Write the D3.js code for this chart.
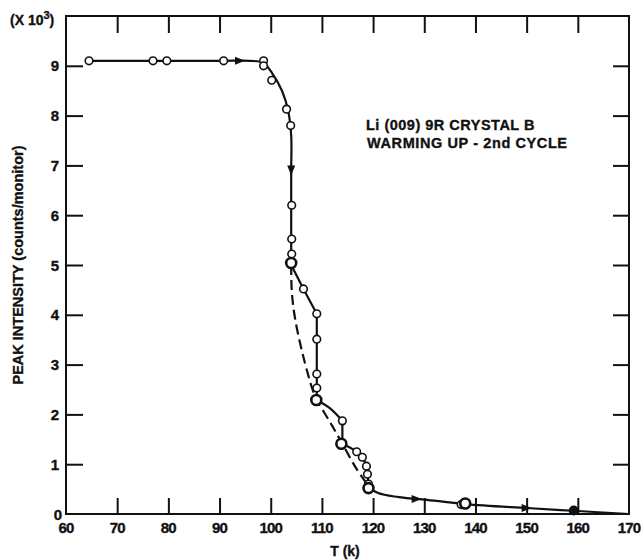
<!DOCTYPE html>
<html>
<head>
<meta charset="utf-8">
<script src="https://cdn.jsdelivr.net/npm/d3@7"></script>
<style>
  body { margin: 0; background: #fff; }
  svg text { font-family: "Liberation Sans", Arial, sans-serif; font-weight: bold; fill: #111; stroke: #111; stroke-width: 0.35px; }
</style>
</head>
<body>
<div id="chart"></div>
<script>
// x ticks / y ticks
var xTicks = [70, 80, 90, 100, 110, 120, 130, 140, 150, 160];
var xLabels = [60, 70, 80, 90, 100, 110, 120, 130, 140, 150, 160, 170];
var yTicks = [1, 2, 3, 4, 5, 6, 7, 8, 9];
var yLabels = [0, 1, 2, 3, 4, 5, 6, 7, 8, 9];

// solid curve, in pieces (joins are corners)
var solidPieces = [
  [[64.5, 9.1], [77, 9.1], [79.7, 9.1], [90.8, 9.1], [96, 9.1], [98.5, 9.06], [100.3, 8.85], [102.2, 8.5], [103.4, 8.1], [104, 7.6], [104, 6.9], [104, 6.2], [104, 5.5], [104, 5.0]],
  [[104, 5.0], [106.4, 4.52], [109, 4.02]],
  [[109, 4.02], [109, 3.5], [109, 2.8], [109, 2.29]],
  [[109, 2.29], [111.6, 2.12], [114, 1.87]],
  [[114, 1.87], [114, 1.41]],
  [[114, 1.41], [116.8, 1.25], [118, 1.12], [118.7, 0.96], [119, 0.8], [119.2, 0.55], [121, 0.42], [125, 0.34], [130, 0.29], [138, 0.2], [150, 0.12], [160, 0.06], [170, 0]]
];

// dashed curve
var dashed = [[104, 5.0], [104.1, 4.5], [104.7, 3.96], [106.2, 3.23], [108.2, 2.49], [109, 2.29], [111.5, 1.86], [114, 1.41], [116.8, 0.9], [119.2, 0.55]];

// open circles
var openPts = [[64.5, 9.1], [77, 9.1], [79.7, 9.1], [90.8, 9.1], [98.6, 9.1], [98.6, 9.0], [100.2, 8.71], [103.1, 8.13], [103.9, 7.8],
  [104.1, 6.2], [104.1, 5.52], [104.1, 5.22], [106.4, 4.52], [109, 4.02], [109, 3.51], [109, 2.81], [109, 2.53],
  [114, 1.87], [116.8, 1.25], [117.9, 1.14], [118.7, 0.96], [118.9, 0.8], [119.1, 0.6], [137.2, 0.19]];

// heavier circles
var bigPts = [[104, 5.04], [108.9, 2.29], [113.8, 1.41], [119.1, 0.52], [138, 0.21]];
var filledPts = [[159.2, 0.07]];

// arrows: x, y, direction
var arrows = [[94, 9.1, "right"], [104, 6.9, "down"], [128.5, 0.3, "right"], [150, 0.12, "right"]];

var W = 642, H = 560;
var mLeft = 66, mRight = 629, mTop = 16, mBottom = 514;

var svg = d3.select("#chart").append("svg")
  .attr("width", W).attr("height", H);

var x = d3.scaleLinear().domain([60, 170]).range([mLeft, mRight]);
var y = d3.scaleLinear().domain([0, 10]).range([mBottom, mTop]);

// ticks
var xb = d3.axisBottom(x).tickValues(xTicks).tickSizeInner(-16).tickSizeOuter(0).tickFormat("");
var xt = d3.axisTop(x).tickValues(xTicks).tickSizeInner(-17).tickSizeOuter(0).tickFormat("");
var yl = d3.axisLeft(y).tickValues(yTicks).tickSizeInner(-17).tickSizeOuter(0).tickFormat("");
var yr = d3.axisRight(y).tickValues(yTicks).tickSizeInner(-16).tickSizeOuter(0).tickFormat("");

[[xb, "translate(0," + mBottom + ")"], [xt, "translate(0," + mTop + ")"],
 [yl, "translate(" + mLeft + ",0)"], [yr, "translate(" + mRight + ",0)"]].forEach(function (a) {
  var g = svg.append("g").attr("transform", a[1]).call(a[0]);
  g.select(".domain").remove();
  g.selectAll("line").attr("stroke", "#111").attr("stroke-width", 2);
});

// frame
svg.append("rect")
  .attr("x", mLeft).attr("y", mTop)
  .attr("width", mRight - mLeft).attr("height", mBottom - mTop)
  .attr("fill", "none").attr("stroke", "#111").attr("stroke-width", 2);

// tick labels
svg.append("g").selectAll("text").data(xLabels).enter().append("text")
  .attr("x", function (d) { return x(d); })
  .attr("y", 533)
  .attr("text-anchor", "middle")
  .style("font-size", "15px")
  .style("letter-spacing", "-0.8px")
  .text(function (d) { return d; });

svg.append("g").selectAll("text").data(yLabels).enter().append("text")
  .attr("x", function (d) { return d === 0 ? 62 : 59; })
  .attr("y", function (d) { return y(d) + 5.5; })
  .attr("text-anchor", "end")
  .style("font-size", "15px")
  .text(function (d) { return d; });

// (X 10^3)
var mult = svg.append("text").attr("x", 10).attr("y", 25).style("font-size", "14px");
mult.append("tspan").text("(X 10");
mult.append("tspan").attr("dy", -6).style("font-size", "11px").text("3");
mult.append("tspan").attr("dy", 6).text(")");

// axis titles
svg.append("text")
  .attr("transform", "translate(23,265) rotate(-90)")
  .attr("text-anchor", "middle")
  .style("font-size", "14.5px")
  .text("PEAK INTENSITY (counts/monitor)");

svg.append("text")
  .attr("x", 345).attr("y", 556)
  .attr("text-anchor", "middle")
  .style("font-size", "14px")
  .text("T (k)");

// annotation
svg.append("text").attr("x", 366).attr("y", 130)
  .style("font-size", "14.5px").style("letter-spacing", "0.5px")
  .text("Li (009) 9R CRYSTAL B");
svg.append("text").attr("x", 367).attr("y", 148)
  .style("font-size", "14.5px").style("letter-spacing", "0.6px")
  .text("WARMING UP - 2nd CYCLE");

// curves
var line = d3.line()
  .x(function (d) { return x(d[0]); })
  .y(function (d) { return y(d[1]); })
  .curve(d3.curveCatmullRom.alpha(0.5));

svg.append("g").selectAll("path").data(solidPieces).enter().append("path")
  .attr("d", line)
  .attr("fill", "none").attr("stroke", "#111").attr("stroke-width", 2.2)
  .attr("stroke-linejoin", "round");

svg.append("path")
  .attr("d", line(dashed))
  .attr("fill", "none").attr("stroke", "#111").attr("stroke-width", 2.2)
  .attr("stroke-dasharray", "10,5");

// arrows
svg.append("g").selectAll("path").data(arrows).enter().append("path")
  .attr("transform", function (d) {
    var r = d[2] === "down" ? 90 : 0;
    return "translate(" + x(d[0]) + "," + y(d[1]) + ") rotate(" + r + ")";
  })
  .attr("d", "M5,0 L-5,-4 L-5,4 Z")
  .attr("fill", "#111");

// markers
svg.append("g").selectAll("circle").data(openPts).enter().append("circle")
  .attr("cx", function (d) { return x(d[0]); })
  .attr("cy", function (d) { return y(d[1]); })
  .attr("r", 3.8)
  .attr("fill", "#fff").attr("stroke", "#111").attr("stroke-width", 1.6);

svg.append("g").selectAll("circle").data(bigPts).enter().append("circle")
  .attr("cx", function (d) { return x(d[0]); })
  .attr("cy", function (d) { return y(d[1]); })
  .attr("r", 5)
  .attr("fill", "#fff").attr("stroke", "#111").attr("stroke-width", 2.6);

svg.append("g").selectAll("circle").data(filledPts).enter().append("circle")
  .attr("cx", function (d) { return x(d[0]); })
  .attr("cy", function (d) { return y(d[1]); })
  .attr("r", 5)
  .attr("fill", "#111");
</script>
</body>
</html>
